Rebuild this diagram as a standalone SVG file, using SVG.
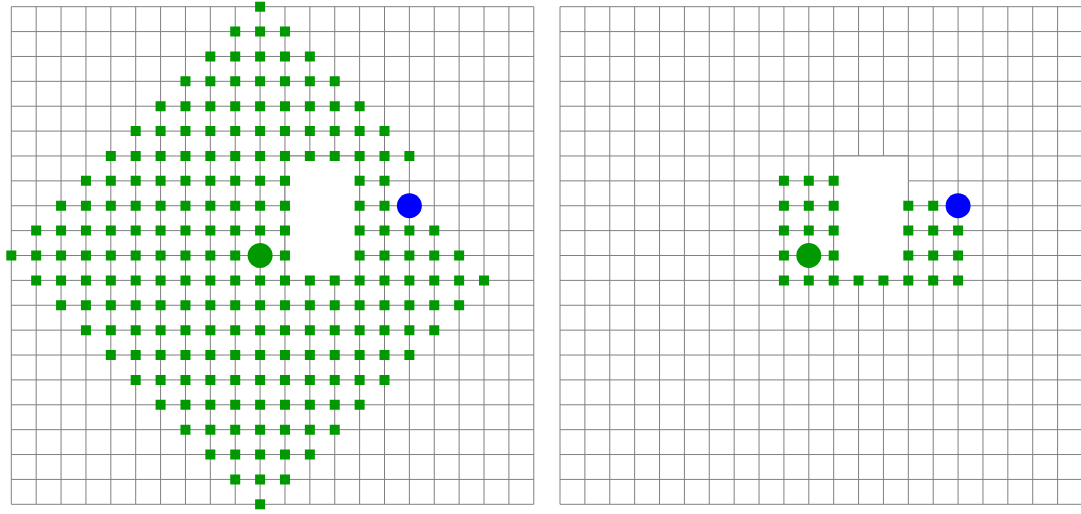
<svg xmlns="http://www.w3.org/2000/svg" xmlns:xlink="http://www.w3.org/1999/xlink" width="1081" height="514" viewBox="0 0 1081 514">
<style>
.grid{fill:none;stroke:#808080;stroke-width:1}
.obs{fill:#ffffff;stroke:#808080;stroke-width:1}
.sq{fill:#009900;stroke:none}
.start{fill:#009900}
.goal{fill:#0000ff}
</style>
<defs>
<path id="grid" class="grid" d="M0 0V497.6M24.88 0V497.6M49.76 0V497.6M74.64 0V497.6M99.52 0V497.6M124.4 0V497.6M149.28 0V497.6M174.16 0V497.6M199.04 0V497.6M223.92 0V497.6M248.8 0V497.6M273.68 0V497.6M298.56 0V497.6M323.44 0V497.6M348.32 0V497.6M373.2 0V497.6M398.08 0V497.6M422.96 0V497.6M447.84 0V497.6M472.72 0V497.6M497.6 0V497.6M522.48 0V497.6M0 0H522.48M0 24.88H522.48M0 49.76H522.48M0 74.64H522.48M0 99.52H522.48M0 124.4H522.48M0 149.28H522.48M0 174.16H522.48M0 199.04H522.48M0 223.92H522.48M0 248.8H522.48M0 273.68H522.48M0 298.56H522.48M0 323.44H522.48M0 348.32H522.48M0 373.2H522.48M0 398.08H522.48M0 422.96H522.48M0 447.84H522.48M0 472.72H522.48M0 497.6H522.48"/>
<rect id="obstacle" class="obs" x="273.68" y="149.28" width="74.64" height="124.4"/>
</defs>
<g id="left-panel" transform="translate(11.3,6.7)">
<use href="#grid" xlink:href="#grid"/>
<use href="#obstacle" xlink:href="#obstacle"/>
<g id="left-visited">
<path class="sq" d="M243.8 -5h10v10h-10z"/>
<path class="sq" d="M218.92 19.88h10v10h-10zm24.88 0h10v10h-10zm24.88 0h10v10h-10z"/>
<path class="sq" d="M194.04 44.76h10v10h-10zm24.88 0h10v10h-10zm24.88 0h10v10h-10zm24.88 0h10v10h-10zm24.88 0h10v10h-10z"/>
<path class="sq" d="M169.16 69.64h10v10h-10zm24.88 0h10v10h-10zm24.88 0h10v10h-10zm24.88 0h10v10h-10zm24.88 0h10v10h-10zm24.88 0h10v10h-10zm24.88 0h10v10h-10z"/>
<path class="sq" d="M144.28 94.52h10v10h-10zm24.88 0h10v10h-10zm24.88 0h10v10h-10zm24.88 0h10v10h-10zm24.88 0h10v10h-10zm24.88 0h10v10h-10zm24.88 0h10v10h-10zm24.88 0h10v10h-10zm24.88 0h10v10h-10z"/>
<path class="sq" d="M119.4 119.4h10v10h-10zm24.88 0h10v10h-10zm24.88 0h10v10h-10zm24.88 0h10v10h-10zm24.88 0h10v10h-10zm24.88 0h10v10h-10zm24.88 0h10v10h-10zm24.88 0h10v10h-10zm24.88 0h10v10h-10zm24.88 0h10v10h-10zm24.88 0h10v10h-10z"/>
<path class="sq" d="M94.52 144.28h10v10h-10zm24.88 0h10v10h-10zm24.88 0h10v10h-10zm24.88 0h10v10h-10zm24.88 0h10v10h-10zm24.88 0h10v10h-10zm24.88 0h10v10h-10zm24.88 0h10v10h-10zm24.88 0h10v10h-10zm24.88 0h10v10h-10zm24.88 0h10v10h-10zm24.88 0h10v10h-10zm24.88 0h10v10h-10z"/>
<path class="sq" d="M69.64 169.16h10v10h-10zm24.88 0h10v10h-10zm24.88 0h10v10h-10zm24.88 0h10v10h-10zm24.88 0h10v10h-10zm24.88 0h10v10h-10zm24.88 0h10v10h-10zm24.88 0h10v10h-10zm24.88 0h10v10h-10zM343.32 169.16h10v10h-10zm24.88 0h10v10h-10z"/>
<path class="sq" d="M44.76 194.04h10v10h-10zm24.88 0h10v10h-10zm24.88 0h10v10h-10zm24.88 0h10v10h-10zm24.88 0h10v10h-10zm24.88 0h10v10h-10zm24.88 0h10v10h-10zm24.88 0h10v10h-10zm24.88 0h10v10h-10zm24.88 0h10v10h-10zM343.32 194.04h10v10h-10zm24.88 0h10v10h-10z"/>
<path class="sq" d="M19.88 218.92h10v10h-10zm24.88 0h10v10h-10zm24.88 0h10v10h-10zm24.88 0h10v10h-10zm24.88 0h10v10h-10zm24.88 0h10v10h-10zm24.88 0h10v10h-10zm24.88 0h10v10h-10zm24.88 0h10v10h-10zm24.88 0h10v10h-10zm24.88 0h10v10h-10zM343.32 218.92h10v10h-10zm24.88 0h10v10h-10zm24.88 0h10v10h-10zm24.88 0h10v10h-10z"/>
<path class="sq" d="M-5 243.8h10v10h-10zm24.88 0h10v10h-10zm24.88 0h10v10h-10zm24.88 0h10v10h-10zm24.88 0h10v10h-10zm24.88 0h10v10h-10zm24.88 0h10v10h-10zm24.88 0h10v10h-10zm24.88 0h10v10h-10zm24.88 0h10v10h-10zM268.68 243.8h10v10h-10zM343.32 243.8h10v10h-10zm24.88 0h10v10h-10zm24.88 0h10v10h-10zm24.88 0h10v10h-10zm24.88 0h10v10h-10z"/>
<path class="sq" d="M19.88 268.68h10v10h-10zm24.88 0h10v10h-10zm24.88 0h10v10h-10zm24.88 0h10v10h-10zm24.88 0h10v10h-10zm24.88 0h10v10h-10zm24.88 0h10v10h-10zm24.88 0h10v10h-10zm24.88 0h10v10h-10zm24.88 0h10v10h-10zm24.88 0h10v10h-10zm24.88 0h10v10h-10zm24.88 0h10v10h-10zm24.88 0h10v10h-10zm24.88 0h10v10h-10zm24.88 0h10v10h-10zm24.88 0h10v10h-10zm24.88 0h10v10h-10zm24.88 0h10v10h-10z"/>
<path class="sq" d="M44.76 293.56h10v10h-10zm24.88 0h10v10h-10zm24.88 0h10v10h-10zm24.88 0h10v10h-10zm24.88 0h10v10h-10zm24.88 0h10v10h-10zm24.88 0h10v10h-10zm24.88 0h10v10h-10zm24.88 0h10v10h-10zm24.88 0h10v10h-10zm24.88 0h10v10h-10zm24.88 0h10v10h-10zm24.88 0h10v10h-10zm24.88 0h10v10h-10zm24.88 0h10v10h-10zm24.88 0h10v10h-10zm24.88 0h10v10h-10z"/>
<path class="sq" d="M69.64 318.44h10v10h-10zm24.88 0h10v10h-10zm24.88 0h10v10h-10zm24.88 0h10v10h-10zm24.88 0h10v10h-10zm24.88 0h10v10h-10zm24.88 0h10v10h-10zm24.88 0h10v10h-10zm24.88 0h10v10h-10zm24.88 0h10v10h-10zm24.88 0h10v10h-10zm24.88 0h10v10h-10zm24.88 0h10v10h-10zm24.88 0h10v10h-10zm24.88 0h10v10h-10z"/>
<path class="sq" d="M94.52 343.32h10v10h-10zm24.88 0h10v10h-10zm24.88 0h10v10h-10zm24.88 0h10v10h-10zm24.88 0h10v10h-10zm24.88 0h10v10h-10zm24.88 0h10v10h-10zm24.88 0h10v10h-10zm24.88 0h10v10h-10zm24.88 0h10v10h-10zm24.88 0h10v10h-10zm24.88 0h10v10h-10zm24.88 0h10v10h-10z"/>
<path class="sq" d="M119.4 368.2h10v10h-10zm24.88 0h10v10h-10zm24.88 0h10v10h-10zm24.88 0h10v10h-10zm24.88 0h10v10h-10zm24.88 0h10v10h-10zm24.88 0h10v10h-10zm24.88 0h10v10h-10zm24.88 0h10v10h-10zm24.88 0h10v10h-10zm24.88 0h10v10h-10z"/>
<path class="sq" d="M144.28 393.08h10v10h-10zm24.88 0h10v10h-10zm24.88 0h10v10h-10zm24.88 0h10v10h-10zm24.88 0h10v10h-10zm24.88 0h10v10h-10zm24.88 0h10v10h-10zm24.88 0h10v10h-10zm24.88 0h10v10h-10z"/>
<path class="sq" d="M169.16 417.96h10v10h-10zm24.88 0h10v10h-10zm24.88 0h10v10h-10zm24.88 0h10v10h-10zm24.88 0h10v10h-10zm24.88 0h10v10h-10zm24.88 0h10v10h-10z"/>
<path class="sq" d="M194.04 442.84h10v10h-10zm24.88 0h10v10h-10zm24.88 0h10v10h-10zm24.88 0h10v10h-10zm24.88 0h10v10h-10z"/>
<path class="sq" d="M218.92 467.72h10v10h-10zm24.88 0h10v10h-10zm24.88 0h10v10h-10z"/>
<path class="sq" d="M243.8 492.6h10v10h-10z"/>
</g>
<circle id="left-start" class="start" cx="248.8" cy="248.8" r="12.5"/>
<circle id="left-goal" class="goal" cx="398.08" cy="199.04" r="12.5"/>
</g>
<g id="right-panel" transform="translate(560,6.7)">
<use href="#grid" xlink:href="#grid"/>
<use href="#obstacle" xlink:href="#obstacle"/>
<g id="right-visited">
<path class="sq" d="M218.92 169.16h10v10h-10zm24.88 0h10v10h-10zm24.88 0h10v10h-10z"/>
<path class="sq" d="M218.92 194.04h10v10h-10zm24.88 0h10v10h-10zm24.88 0h10v10h-10zM343.32 194.04h10v10h-10zm24.88 0h10v10h-10z"/>
<path class="sq" d="M218.92 218.92h10v10h-10zm24.88 0h10v10h-10zm24.88 0h10v10h-10zM343.32 218.92h10v10h-10zm24.88 0h10v10h-10zm24.88 0h10v10h-10z"/>
<path class="sq" d="M218.92 243.8h10v10h-10zM268.68 243.8h10v10h-10zM343.32 243.8h10v10h-10zm24.88 0h10v10h-10zm24.88 0h10v10h-10z"/>
<path class="sq" d="M218.92 268.68h10v10h-10zm24.88 0h10v10h-10zm24.88 0h10v10h-10zm24.88 0h10v10h-10zm24.88 0h10v10h-10zm24.88 0h10v10h-10zm24.88 0h10v10h-10zm24.88 0h10v10h-10z"/>
</g>
<circle id="right-start" class="start" cx="248.8" cy="248.8" r="12.5"/>
<circle id="right-goal" class="goal" cx="398.08" cy="199.04" r="12.5"/>
</g>
</svg>
